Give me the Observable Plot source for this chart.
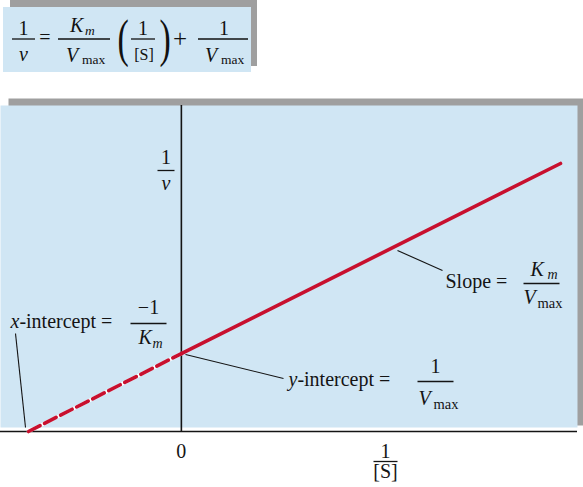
<!DOCTYPE html>
<html><head><meta charset="utf-8">
<script src="https://cdn.jsdelivr.net/npm/d3@7"></script>
<script src="https://cdn.jsdelivr.net/npm/@observablehq/plot@0.6"></script>
<style>
body{margin:0;background:#fff;}
#eq{display:block;}
#eq text{font-family:"Liberation Serif","Times New Roman",serif;font-size:20px;fill:#111;}
#eq text.it{font-style:italic;}
#eq text.sub{font-size:13.5px;}
#eq line{stroke:#111;stroke-width:1.3px;}
#chart svg{display:block;}
</style></head><body>
<svg id="eq" width="583" height="90">
  <rect x="10" y="0" width="247" height="66" fill="#9f9f9f"/>
  <rect x="3" y="7" width="248" height="65" fill="#d0e6f4"/>
  <text x="23.5" y="35" text-anchor="middle">1</text>
  <line x1="12" x2="35" y1="39" y2="39"/>
  <text class="it" x="23.5" y="61" text-anchor="middle">v</text>
  <text x="45" y="44" text-anchor="middle">=</text>
  <text class="it" x="70" y="32">K</text>
  <text class="it sub" x="85" y="35">m</text>
  <line x1="58" x2="110" y1="39" y2="39"/>
  <text class="it" x="66" y="62">V</text>
  <text class="sub" x="82" y="64">max</text>
  <text transform="translate(123,56) scale(0.65,1)" style="font-size:52px" text-anchor="middle">(</text>
  <text x="143" y="35" text-anchor="middle">1</text>
  <line x1="131" x2="155" y1="39" y2="39"/>
  <text x="144" y="60" text-anchor="middle" style="font-size:16px">[S]</text>
  <text transform="translate(165,56) scale(0.65,1)" style="font-size:52px" text-anchor="middle">)</text>
  <text x="180" y="47" text-anchor="middle" style="font-size:25px">+</text>
  <text x="224" y="35" text-anchor="middle">1</text>
  <line x1="198" x2="248" y1="39" y2="39"/>
  <text class="it" x="205" y="62">V</text>
  <text class="sub" x="221" y="64">max</text>
</svg>
<div id="chart"></div>
<script>
// ---- data (schematic Lineweaver–Burk plot, Km = 1, Vmax ≈ 1) ----
const invS = [-1, 0, 2.48];      // 1/[S]: x-intercept (-1/Km), 0, right end
const invV = [0, 1, 3.44];       // 1/v  : 0, y-intercept (1/Vmax), right end
const xTickValues = [0];
const xTickLabels = ["0"];

const points = invS.map((x, i) => ({x, y: invV[i]}));
const dashedPart = points.slice(0, 2);
const solidPart = points.slice(1);

// ---- layout ----
const W = 583, H = 397, TOP = 90;   // svg sits below the equation header
const xDom = [-1, 2.48], xRng = [28, 560];
const yDom = [0, 3.44], yRng = [341, 73];
const sx = d3.scaleLinear(xDom, xRng), sy = d3.scaleLinear(yDom, yRng);
const X = px => sx.invert(px);
const Y = py => sy.invert(py - TOP);
const FONT = "'Liberation Serif','Times New Roman',serif";
const INK = "#141414";
const RED = "#c8102e";

// annotation texts: [text, x, baseline, size, italic, anchor]
const labels = [
  ["1", 165.5, 163, 20, false, "middle"],
  ["v", 165.5, 189, 20, true, "middle"],
  ["x", 10, 327, 20, true, "start"],
  ["-intercept =", 18.9, 327, 20, false, "start"],
  ["\u22121", 148, 313, 20, false, "middle"],
  ["K", 138, 343, 20, true, "start"],
  ["m", 152, 347, 14, true, "start"],
  ["y", 288, 385, 20, true, "start"],
  ["-intercept =", 296.9, 385, 20, false, "start"],
  ["1", 435, 372, 20, false, "middle"],
  ["V", 418, 404, 20, true, "start"],
  ["max", 433, 408, 14.5, false, "start"],
  ["Slope =", 445, 287, 20, false, "start"],
  ["K", 530, 275, 20, true, "start"],
  ["m", 547, 278, 14, true, "start"],
  ["V", 523, 303, 20, true, "start"],
  ["max", 537, 307, 14.5, false, "start"],
  ["1", 385, 457, 20, false, "middle"],
  ["[S]", 385, 477, 20, false, "middle"]
];
// fraction bars: [x1, x2, y]
const bars = [[157, 174, 170], [130, 166, 323], [417, 453, 381], [523, 559, 283], [373, 397, 461]];
// leader lines: [x1, y1, x2, y2]
const leaders = [[15, 333, 25, 427], [185, 354, 283, 378], [397, 250, 442, 270]];

const marks = [
  Plot.frame({fill: "#9f9f9f", stroke: "none", insetLeft: 8, insetTop: 8, insetBottom: H - (425 - TOP)}),
  Plot.frame({fill: "#d0e6f4", stroke: "none", insetTop: 15, insetRight: 6, insetBottom: H - (427 - TOP)}),
  Plot.ruleY([0], {x1: X(0), x2: X(577), stroke: INK, strokeWidth: 1.6}),
  Plot.ruleX([0], {y1: 0, y2: Y(105), stroke: INK, strokeWidth: 1.6}),
  Plot.link(bars, {x1: d => X(d[0]), x2: d => X(d[1]), y1: d => Y(d[2]), y2: d => Y(d[2]), stroke: INK, strokeWidth: 1.3}),
  Plot.link(leaders, {x1: d => X(d[0]), y1: d => Y(d[1]), x2: d => X(d[2]), y2: d => Y(d[3]), stroke: INK, strokeWidth: 1.1}),
  Plot.line(dashedPart, {x: "x", y: "y", stroke: "#ffffff", strokeWidth: 3.6}),
  Plot.line(dashedPart, {x: "x", y: "y", stroke: RED, strokeWidth: 3.6, strokeDasharray: "13,5"}),
  Plot.line(solidPart, {x: "x", y: "y", stroke: RED, strokeWidth: 3.6}),
  Plot.text(xTickValues, {x: d => d, y: Y(457 - 0.32 * 20), text: (d, i) => xTickLabels[i], fontSize: 20, fill: INK, textAnchor: "middle"}),
  ...labels.map(([t, x, base, size, italic, anchor]) =>
    Plot.text([t], {x: X(x), y: Y(base - 0.32 * size), text: d => d, fontSize: size,
      fontStyle: italic ? "italic" : "normal", textAnchor: anchor, fill: INK}))
];

const chart = Plot.plot({
  width: W, height: H,
  marginTop: 0, marginRight: 0, marginBottom: 0, marginLeft: 0,
  x: {domain: xDom, range: xRng, axis: null},
  y: {domain: yDom, range: yRng, axis: null},
  style: {fontFamily: FONT, background: "transparent", overflow: "visible"},
  marks
});
document.getElementById("chart").appendChild(chart);
</script>
</body></html>
